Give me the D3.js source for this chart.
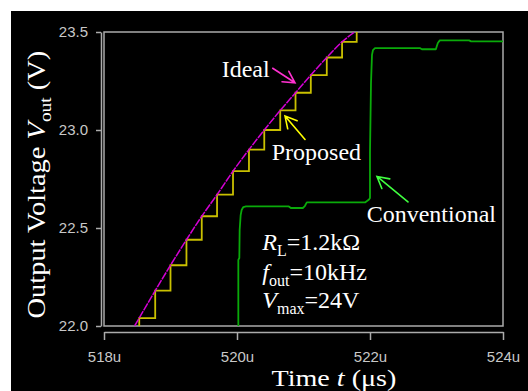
<!DOCTYPE html>
<html><head><meta charset="utf-8">
<script src="https://cdn.jsdelivr.net/npm/d3@7"></script>
<style>
html,body{margin:0;padding:0;background:#fff;}
svg{display:block;}
.serif{font-family:"Liberation Serif","Times New Roman",Tinos,"DejaVu Serif",serif;}
.sans{font-family:"Liberation Sans",Arial,Helvetica,sans-serif;}
</style></head><body>
<svg id="chart" width="528" height="391"></svg>
<script>
// Axis ticks
const xTicks = [518, 520, 522, 524];          // time, µs
const yTicks = [22.0, 22.5, 23.0, 23.5];      // output voltage, V

// Ideal sinusoidal output near the crest
const idealT = [518.46, 518.77, 519.00, 519.24, 519.47, 519.70, 519.94, 520.18, 520.41, 520.65, 520.88, 521.11, 521.35, 521.58, 521.77];
const idealV = [22.00, 22.18, 22.31, 22.44, 22.56, 22.67, 22.79, 22.90, 23.00, 23.10, 23.19, 23.28, 23.37, 23.45, 23.50];

// Proposed converter: staircase that holds each sampled level until the next step
const propT = [518.53, 518.53, 518.77, 519.00, 519.24, 519.47, 519.70, 519.94, 520.18, 520.41, 520.65, 520.88, 521.11, 521.35, 521.58, 521.80];
const propV = [21.90, 22.04, 22.18, 22.31, 22.44, 22.56, 22.67, 22.79, 22.90, 23.00, 23.10, 23.19, 23.28, 23.37, 23.45, 23.55];

// Conventional converter: two coarse jumps
const convT = [520.02, 520.02, 520.035, 520.04, 520.055, 520.07, 520.095, 520.135, 520.78, 520.81, 520.99, 521.02, 521.05, 521.93, 521.985, 522.00, 522.00, 522.015, 522.03, 522.045, 522.075, 522.75, 522.78, 522.99, 523.02, 523.05, 523.49, 523.52, 524.00];
const convV = [21.98, 22.337, 22.347, 22.49, 22.566, 22.592, 22.607, 22.61, 22.61, 22.602, 22.602, 22.612, 22.631, 22.631, 22.645, 22.653, 22.888, 23.24, 23.383, 23.408, 23.418, 23.418, 23.412, 23.412, 23.444, 23.457, 23.457, 23.452, 23.452];

const svg = d3.select("#chart");
const W = 528, H = 391;

// Black panel
svg.append("rect").attr("x", 11).attr("y", 11).attr("width", W - 11).attr("height", H - 11).attr("fill", "#000");

const x = d3.scaleLinear().domain([518, 524]).range([104, 503]);
const y = d3.scaleLinear().domain([22, 23.5]).range([326, 32]);

const gridColor = "#ababab";

// Axes
const yAxis = svg.append("g").attr("transform", "translate(101,0)")
  .call(d3.axisLeft(y).tickValues(yTicks).tickFormat(d3.format(".1f")).tickSizeInner(5).tickSizeOuter(0).tickPadding(8));
const xAxis = svg.append("g").attr("transform", "translate(0,332)")
  .call(d3.axisBottom(x).tickValues(xTicks).tickFormat(d => d + "u").tickSizeInner(8).tickSizeOuter(0).tickPadding(11));
[yAxis, xAxis].forEach(a => {
  a.attr("font-family", null).attr("font-size", null);
  a.select(".domain").attr("stroke", gridColor).attr("stroke-width", 1.5);
  a.selectAll(".tick line").attr("stroke", gridColor).attr("stroke-width", 1.5);
  a.selectAll(".tick text").attr("class", "sans").attr("fill", "#c8c8c8").attr("font-size", 15);
});

// Plot frame
svg.append("rect").attr("x", x(518)).attr("y", y(23.5))
  .attr("width", x(524) - x(518)).attr("height", y(22) - y(23.5))
  .attr("fill", "none").attr("stroke", gridColor).attr("stroke-width", 1.5);

svg.append("clipPath").attr("id", "plotClip").append("rect")
  .attr("x", x(518)).attr("y", y(23.5)).attr("width", x(524) - x(518)).attr("height", y(22) - y(23.5));

const plot = svg.append("g").attr("clip-path", "url(#plotClip)");

const conv = d3.zip(convT, convV);
plot.append("path").datum(conv)
  .attr("d", d3.line().x(d => x(d[0])).y(d => y(d[1])))
  .attr("fill", "none").attr("stroke", "#0aaa0a").attr("stroke-width", 1.8).attr("stroke-linejoin", "round");

const prop = d3.zip(propT, propV);
plot.append("path").datum(prop)
  .attr("d", d3.line().curve(d3.curveStepAfter).x(d => x(d[0])).y(d => y(d[1])))
  .attr("fill", "none").attr("stroke", "#c9c000").attr("stroke-width", 1.8);

const ideal = d3.zip(idealT, idealV);
plot.append("path").datum(ideal)
  .attr("d", d3.line().curve(d3.curveMonotoneX).x(d => x(d[0])).y(d => y(d[1])))
  .attr("fill", "none").attr("stroke", "#d400d4").attr("stroke-width", 1.5).attr("stroke-dasharray", "8,1");

// Arrow pointing from (t0,v0) to (t1,v1)
function arrow(t0, v0, t1, v1, color) {
  const x0 = x(t0), y0 = y(v0), x1 = x(t1), y1 = y(v1);
  const a = Math.atan2(y1 - y0, x1 - x0);
  const L = 13, spread = 0.5;
  const p = d3.path();
  p.moveTo(x0, y0); p.lineTo(x1, y1);
  p.moveTo(x1 - L * Math.cos(a - spread), y1 - L * Math.sin(a - spread));
  p.lineTo(x1, y1);
  p.lineTo(x1 - L * Math.cos(a + spread), y1 - L * Math.sin(a + spread));
  svg.append("path").attr("d", p.toString()).attr("fill", "none")
    .attr("stroke", color).attr("stroke-width", 1.6).attr("stroke-linecap", "round");
}

function label(t, v, str) {
  return svg.append("text").attr("class", "serif").attr("x", x(t)).attr("y", y(v))
    .attr("fill", "#fff").attr("font-size", 24).text(str);
}

label(519.77, 23.272, "Ideal");
arrow(520.537, 23.315, 520.872, 23.241, "#ff30d0");
label(520.522, 22.847, "Proposed");
arrow(521.023, 22.952, 520.722, 23.071, "#ffff00");
label(521.95, 22.532, "Conventional");
arrow(522.571, 22.633, 522.105, 22.763, "#40ff40");

// Operating conditions
function param(v, main, sub, rest) {
  const t = svg.append("text").attr("class", "serif").attr("x", x(520.38)).attr("y", y(v))
    .attr("fill", "#fff").attr("font-size", 24);
  t.append("tspan").attr("font-style", "italic").text(main);
  t.append("tspan").attr("font-size", 16).attr("dy", 6).text(sub);
  t.append("tspan").attr("dy", -6).text(rest);
}
param(22.388, "R", "L", "=1.2kΩ");
param(22.235, "f", "out", "=10kHz");
param(22.090, "V", "max", "=24V");

// Axis titles, condensed to their drawn extents
const xt = svg.append("text").attr("class", "serif").attr("fill", "#fff").attr("font-size", 24);
xt.append("tspan").text("Time ");
xt.append("tspan").attr("font-style", "italic").text("t");
xt.append("tspan").text(" (μs)");
const xw = xt.node().getBBox().width;
xt.attr("transform", `translate(271.5,385.5) scale(${125 / xw},1)`);

const yt = svg.append("text").attr("class", "serif").attr("fill", "#fff").attr("font-size", 25);
yt.append("tspan").text("Output Voltage ");
yt.append("tspan").attr("font-style", "italic").text("V");
yt.append("tspan").attr("font-size", 17).attr("dy", 6).text("out");
yt.append("tspan").attr("dy", -6).text(" (V)");
const yw = yt.node().getBBox().width;
yt.attr("transform", `translate(45,318.5) rotate(-90) scale(${268 / yw},1)`);
</script>
</body></html>
